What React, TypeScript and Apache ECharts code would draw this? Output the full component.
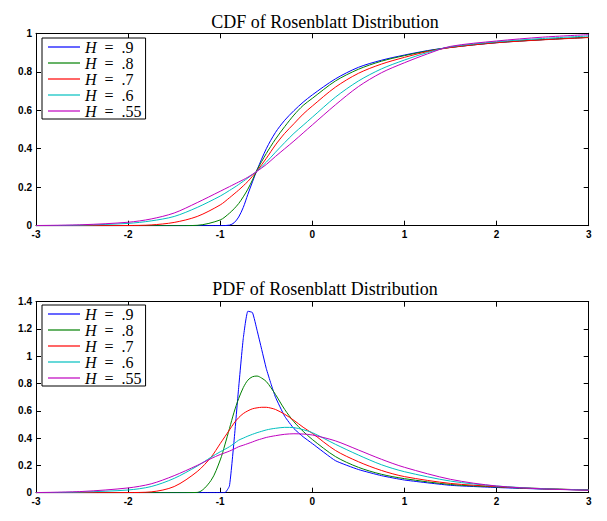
import React, { useEffect, useRef } from "react";
import * as echarts from "echarts";

// ---- data ----
const SERIES_NAMES = ["H = .9", "H = .8", "H = .7", "H = .6", "H = .55"];
const COLORS = ["#0000ff", "#008000", "#ff0000", "#00bfbf", "#bf00bf"];

const CDF_TITLE = "CDF of Rosenblatt Distribution";
const PDF_TITLE = "PDF of Rosenblatt Distribution";

const CDF_X = [-3, -2.5, -2, -1.75, -1.5, -1.25, -1, -0.9, -0.85, -0.8, -0.75, -0.7, -0.65, -0.6, -0.5, -0.4, -0.3, -0.2, -0.1, 0, 0.25, 0.5, 0.75, 1, 1.25, 1.5, 2, 2.5, 3];
const CDF_H90 = [0, 0, 0, 0, 0, 0, 0, 0.003, 0.015, 0.045, 0.095, 0.163, 0.228, 0.29, 0.4, 0.485, 0.548, 0.598, 0.642, 0.68, 0.763, 0.823, 0.86, 0.887, 0.91, 0.927, 0.951, 0.967, 0.979];
const CDF_H80 = [0, 0, 0, 0, 0, 0.002, 0.03, 0.065, 0.088, 0.115, 0.15, 0.19, 0.238, 0.29, 0.375, 0.45, 0.515, 0.575, 0.625, 0.662, 0.752, 0.813, 0.855, 0.884, 0.908, 0.927, 0.952, 0.967, 0.979];
const CDF_H70 = [0, 0, 0.001, 0.004, 0.017, 0.048, 0.108, 0.145, 0.165, 0.185, 0.207, 0.23, 0.257, 0.285, 0.35, 0.42, 0.48, 0.53, 0.58, 0.622, 0.72, 0.792, 0.84, 0.875, 0.905, 0.926, 0.951, 0.966, 0.978];
const CDF_H60 = [0, 0.003, 0.012, 0.025, 0.048, 0.095, 0.154, 0.183, 0.198, 0.214, 0.231, 0.248, 0.266, 0.284, 0.33, 0.382, 0.432, 0.48, 0.522, 0.564, 0.668, 0.752, 0.815, 0.861, 0.9, 0.93, 0.956, 0.973, 0.986];
const CDF_H55 = [0.001, 0.005, 0.018, 0.035, 0.066, 0.12, 0.179, 0.203, 0.215, 0.227, 0.239, 0.252, 0.267, 0.283, 0.318, 0.36, 0.4, 0.44, 0.482, 0.524, 0.628, 0.723, 0.795, 0.847, 0.893, 0.932, 0.96, 0.98, 0.993];

const PDF_X = [-3, -2.5, -2, -1.75, -1.5, -1.25, -1.1, -1, -0.95, -0.9, -0.85, -0.8, -0.75, -0.7, -0.65, -0.6, -0.55, -0.5, -0.45, -0.4, -0.3, -0.2, -0.1, 0, 0.25, 0.5, 0.75, 1, 1.5, 2, 2.5, 3];
const PDF_H90 = [0, 0, 0, 0, 0, 0, 0, 0, 0, 0.05, 0.38, 0.77, 1.13, 1.33, 1.32, 1.19, 1.05, 0.91, 0.8, 0.7, 0.56, 0.47, 0.41, 0.36, 0.235, 0.17, 0.125, 0.093, 0.054, 0.038, 0.027, 0.02];
const PDF_H80 = [0, 0, 0, 0, 0, 0.002, 0.09, 0.24, 0.35, 0.47, 0.59, 0.69, 0.77, 0.825, 0.85, 0.855, 0.84, 0.815, 0.77, 0.72, 0.61, 0.52, 0.45, 0.39, 0.265, 0.186, 0.135, 0.103, 0.06, 0.042, 0.028, 0.02];
const PDF_H70 = [0, 0, 0.001, 0.006, 0.045, 0.155, 0.26, 0.36, 0.41, 0.46, 0.51, 0.55, 0.58, 0.6, 0.615, 0.622, 0.626, 0.626, 0.62, 0.61, 0.575, 0.53, 0.48, 0.435, 0.31, 0.227, 0.163, 0.118, 0.068, 0.045, 0.03, 0.02];
const PDF_H60 = [0, 0.005, 0.02, 0.045, 0.105, 0.195, 0.26, 0.3, 0.318, 0.337, 0.36, 0.385, 0.4, 0.415, 0.428, 0.44, 0.45, 0.46, 0.467, 0.472, 0.479, 0.477, 0.462, 0.44, 0.355, 0.276, 0.205, 0.154, 0.085, 0.049, 0.03, 0.02];
const PDF_H55 = [0.001, 0.009, 0.035, 0.065, 0.125, 0.2, 0.25, 0.28, 0.292, 0.305, 0.32, 0.337, 0.348, 0.36, 0.372, 0.385, 0.395, 0.405, 0.412, 0.418, 0.428, 0.432, 0.43, 0.423, 0.38, 0.313, 0.245, 0.186, 0.098, 0.049, 0.028, 0.018];

const CDF_SETS = [CDF_H90, CDF_H80, CDF_H70, CDF_H60, CDF_H55];
const PDF_SETS = [PDF_H90, PDF_H80, PDF_H70, PDF_H60, PDF_H55];

const X_MIN = -3;
const X_MAX = 3;
const X_STEP = 1;
const CDF_Y_MAX = 1;
const PDF_Y_MAX = 1.4;
const Y_STEP = 0.2;

const pairs = (xs: number[], ys: number[]) => xs.map((x, i) => [x, ys[i]]);

export default function App() {
  const ref = useRef<HTMLDivElement>(null);

  useEffect(() => {
    if (!ref.current) return;
    const chart = echarts.init(ref.current, null, { renderer: "svg" });

    const labelStyle = {
      color: "#000",
      fontFamily: "Liberation Sans",
      fontSize: 10,
      fontWeight: "bold" as const,
    };
    const line = { show: true, onZero: false, lineStyle: { color: "#000", width: 1 } };
    const tick = { show: true, inside: true, length: 5, lineStyle: { color: "#000", width: 1 } };

    const xAxisFor = (gridIndex: number, position: "bottom" | "top", labels: boolean) => ({
      type: "value",
      gridIndex,
      position,
      min: X_MIN,
      max: X_MAX,
      interval: X_STEP,
      axisLine: line,
      axisTick: tick,
      splitLine: { show: false },
      axisLabel: labels ? { ...labelStyle, margin: 4, showMinLabel: true, showMaxLabel: true } : { show: false },
    });
    const yAxisFor = (gridIndex: number, position: "left" | "right", max: number, labels: boolean) => ({
      type: "value",
      gridIndex,
      position,
      min: 0,
      max,
      interval: Y_STEP,
      axisLine: line,
      axisTick: tick,
      splitLine: { show: false },
      axisLabel: labels ? { ...labelStyle, margin: 4 } : { show: false },
    });

    const series: any[] = [];
    SERIES_NAMES.forEach((name, i) => {
      series.push({
        type: "line",
        name,
        xAxisIndex: 0,
        yAxisIndex: 0,
        data: pairs(CDF_X, CDF_SETS[i]),
        showSymbol: false,
        symbol: "none",
        smooth: 0.3,
        lineStyle: { color: COLORS[i], width: 1 },
        itemStyle: { color: COLORS[i] },
      });
    });
    SERIES_NAMES.forEach((name, i) => {
      series.push({
        type: "line",
        name,
        xAxisIndex: 2,
        yAxisIndex: 2,
        data: pairs(PDF_X, PDF_SETS[i]),
        showSymbol: false,
        symbol: "none",
        smooth: i === 0 ? 0.15 : 0.3,
        lineStyle: { color: COLORS[i], width: 1 },
        itemStyle: { color: COLORS[i] },
      });
    });

    const legendFor = (top: number) => ({
      orient: "vertical",
      left: 42,
      top,
      data: SERIES_NAMES,
      icon: "rect",
      itemWidth: 32,
      itemHeight: 1.2,
      itemGap: 0,
      padding: [1, 4, 0, 6],
      borderColor: "#000",
      borderWidth: 1,
      backgroundColor: "#fff",
      selectedMode: false,
      formatter: (name: string) => "{i|H} {e|=} " + name.split("= ")[1],
      textStyle: {
        color: "#000",
        fontFamily: "Liberation Serif",
        fontSize: 16,
        lineHeight: 14,
        rich: {
          i: { fontStyle: "italic", fontFamily: "Liberation Serif", fontSize: 16, lineHeight: 14, color: "#000" },
          e: { fontFamily: "Liberation Serif", fontSize: 16, lineHeight: 14, padding: [0, 4, 0, 4], color: "#000" },
        },
      },
    });

    const titleStyle = {
      color: "#000",
      fontFamily: "Liberation Serif",
      fontSize: 18,
      fontWeight: "normal" as const,
    };

    chart.setOption({
      animation: false,
      backgroundColor: "#fff",
      title: [
        { text: CDF_TITLE, left: 325, top: 12.5, textAlign: "center", textStyle: titleStyle, padding: 0 },
        { text: PDF_TITLE, left: 325, top: 280, textAlign: "center", textStyle: titleStyle, padding: 0 },
      ],
      legend: [legendFor(38), legendFor(305)],
      grid: [
        { left: 36, top: 33.3, width: 552.7, height: 192.4 },
        { left: 36, top: 301.7, width: 552.7, height: 191 },
      ],
      xAxis: [
        xAxisFor(0, "bottom", true),
        xAxisFor(0, "top", false),
        xAxisFor(1, "bottom", true),
        xAxisFor(1, "top", false),
      ],
      yAxis: [
        yAxisFor(0, "left", CDF_Y_MAX, true),
        yAxisFor(0, "right", CDF_Y_MAX, false),
        yAxisFor(1, "left", PDF_Y_MAX, true),
        yAxisFor(1, "right", PDF_Y_MAX, false),
      ],
      series,
    });

    return () => chart.dispose();
  }, []);

  return (
    <div
      ref={ref}
      style={{ position: "absolute", left: 0, top: 0, width: 607, height: 521, background: "#fff" }}
    />
  );
}
